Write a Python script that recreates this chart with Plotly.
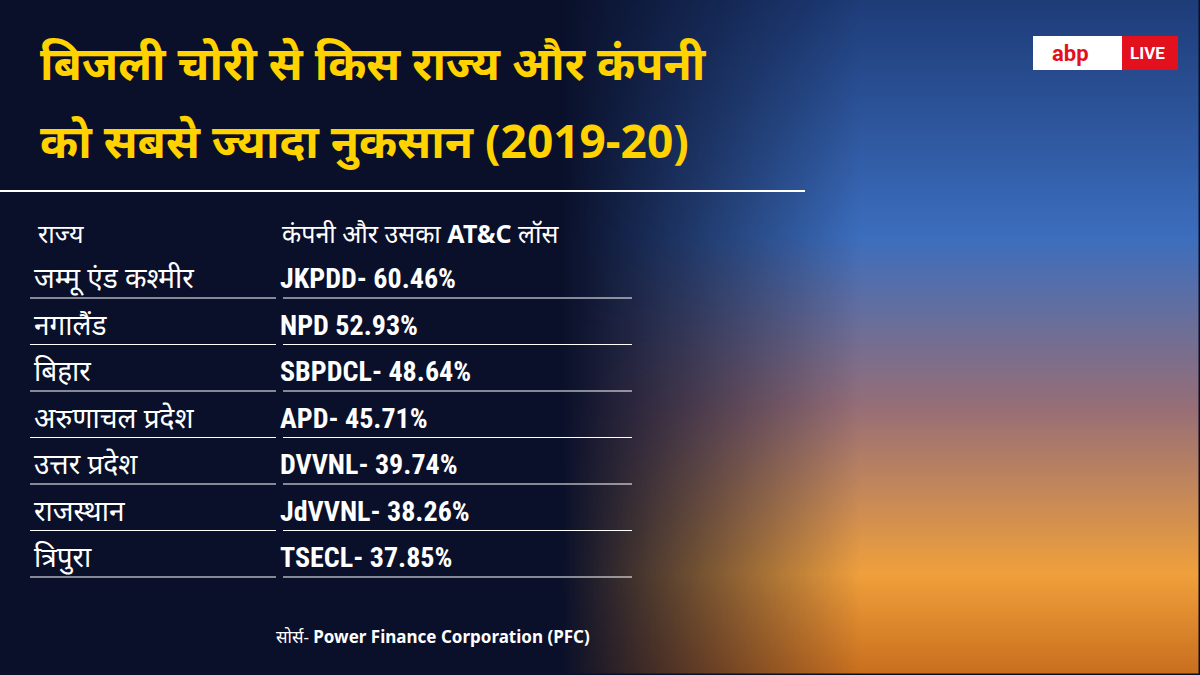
import numpy as np
import plotly.graph_objects as go

title_lines = ["बिजली चोरी से किस राज्य और कंपनी", "को सबसे ज्यादा नुकसान (2019-20)"]
header_state = "राज्य"
header_company = "कंपनी और उसका <b>AT&C</b> लॉस"
states = ["जम्मू एंड कश्मीर", "नगालैंड", "बिहार", "अरुणाचल प्रदेश", "उत्तर प्रदेश", "राजस्थान", "त्रिपुरा"]
companies = ["JKPDD-", "NPD", "SBPDCL-", "APD-", "DVVNL-", "JdVVNL-", "TSECL-"]
losses = [60.46, 52.93, 48.64, 45.71, 39.74, 38.26, 37.85]
source = "सोर्स- <b>Power Finance Corporation (PFC)</b>"

W, H = 1200, 675
NAVY = (10, 16, 42)

# background: dark navy on the left, sky-to-sunset glow on the right
ys, xs = np.mgrid[0:H:3, 0:W:3]
fade = np.clip((xs - 560) / 300, 0, 1)
t = ys / H
sky = np.stack([
    np.interp(t, [0, 0.35, 0.6, 0.85, 1], [30, 60, 150, 240, 200]),
    np.interp(t, [0, 0.35, 0.6, 0.85, 1], [60, 110, 110, 160, 110]),
    np.interp(t, [0, 0.35, 0.6, 0.85, 1], [120, 190, 120, 60, 30]),
], axis=-1)
navy = np.array(NAVY)[None, None, :]
img = (navy * (1 - fade[..., None]) + sky * fade[..., None]).astype(np.uint8)

fig = go.Figure()
fig.add_trace(go.Image(z=img, x0=0, dx=3, y0=0, dy=3, hoverinfo="skip"))

font = "Noto Sans, Roboto"
row_y = [281 + 46.5 * i for i in range(len(states))]
fig.add_trace(go.Scatter(
    x=[34] * len(states), y=row_y, text=states, mode="text", textposition="middle right",
    textfont=dict(family=font, size=28, color="white"), hoverinfo="skip"))
fig.add_trace(go.Scatter(
    x=[280] * len(states), y=row_y,
    text=[f"<b>{c} {v:.2f}%</b>" for c, v in zip(companies, losses)],
    mode="text", textposition="middle right",
    textfont=dict(family="Roboto Condensed, Roboto", size=28, color="white"), hoverinfo="skip"))

shapes = [dict(type="line", x0=0, x1=805, y0=191, y1=191, line=dict(color="white", width=2))]
for y in row_y:
    shapes.append(dict(type="line", x0=30, x1=276, y0=y + 17, y1=y + 17, line=dict(color="white", width=1.2)))
    shapes.append(dict(type="line", x0=283, x1=632, y0=y + 17, y1=y + 17, line=dict(color="white", width=1.2)))
shapes.append(dict(type="rect", x0=1033, x1=1178, y0=36, y1=70, fillcolor="white", line_width=0))
shapes.append(dict(type="rect", x0=1122, x1=1178, y0=36, y1=70, fillcolor="#e3101d", line_width=0))

ann = [
    dict(x=38, y=62, text=f"<b>{title_lines[0]}</b>", font=dict(family=font, size=46, color="#ffd200")),
    dict(x=38, y=140, text=f"<b>{title_lines[1]}</b>", font=dict(family=font, size=46, color="#ffd200")),
    dict(x=36, y=233, text=header_state, font=dict(family=font, size=25, color="white")),
    dict(x=280, y=233, text=header_company, font=dict(family=font, size=25, color="white")),
    dict(x=274, y=636, text=source, font=dict(family=font, size=17, color="white")),
    dict(x=1050, y=53, text="<b>abp</b>", font=dict(family="Roboto", size=22, color="#e3101d")),
    dict(x=1128, y=53, text="<b>LIVE</b>", font=dict(family="Roboto", size=17, color="white")),
]
for a in ann:
    a.update(xref="x", yref="y", xanchor="left", yanchor="middle", showarrow=False)

fig.update_layout(
    width=W, height=H, margin=dict(l=0, r=0, t=0, b=0),
    paper_bgcolor="rgb(10,16,42)", plot_bgcolor="rgb(10,16,42)",
    showlegend=False, shapes=shapes, annotations=ann,
    xaxis=dict(range=[0, W], visible=False, fixedrange=True),
    yaxis=dict(range=[H, 0], visible=False, fixedrange=True),
)
fig.write_html("out.html", config={"displayModeBar": False},
               post_script="document.body.style.margin='0';document.body.style.background='rgb(10,16,42)';")
